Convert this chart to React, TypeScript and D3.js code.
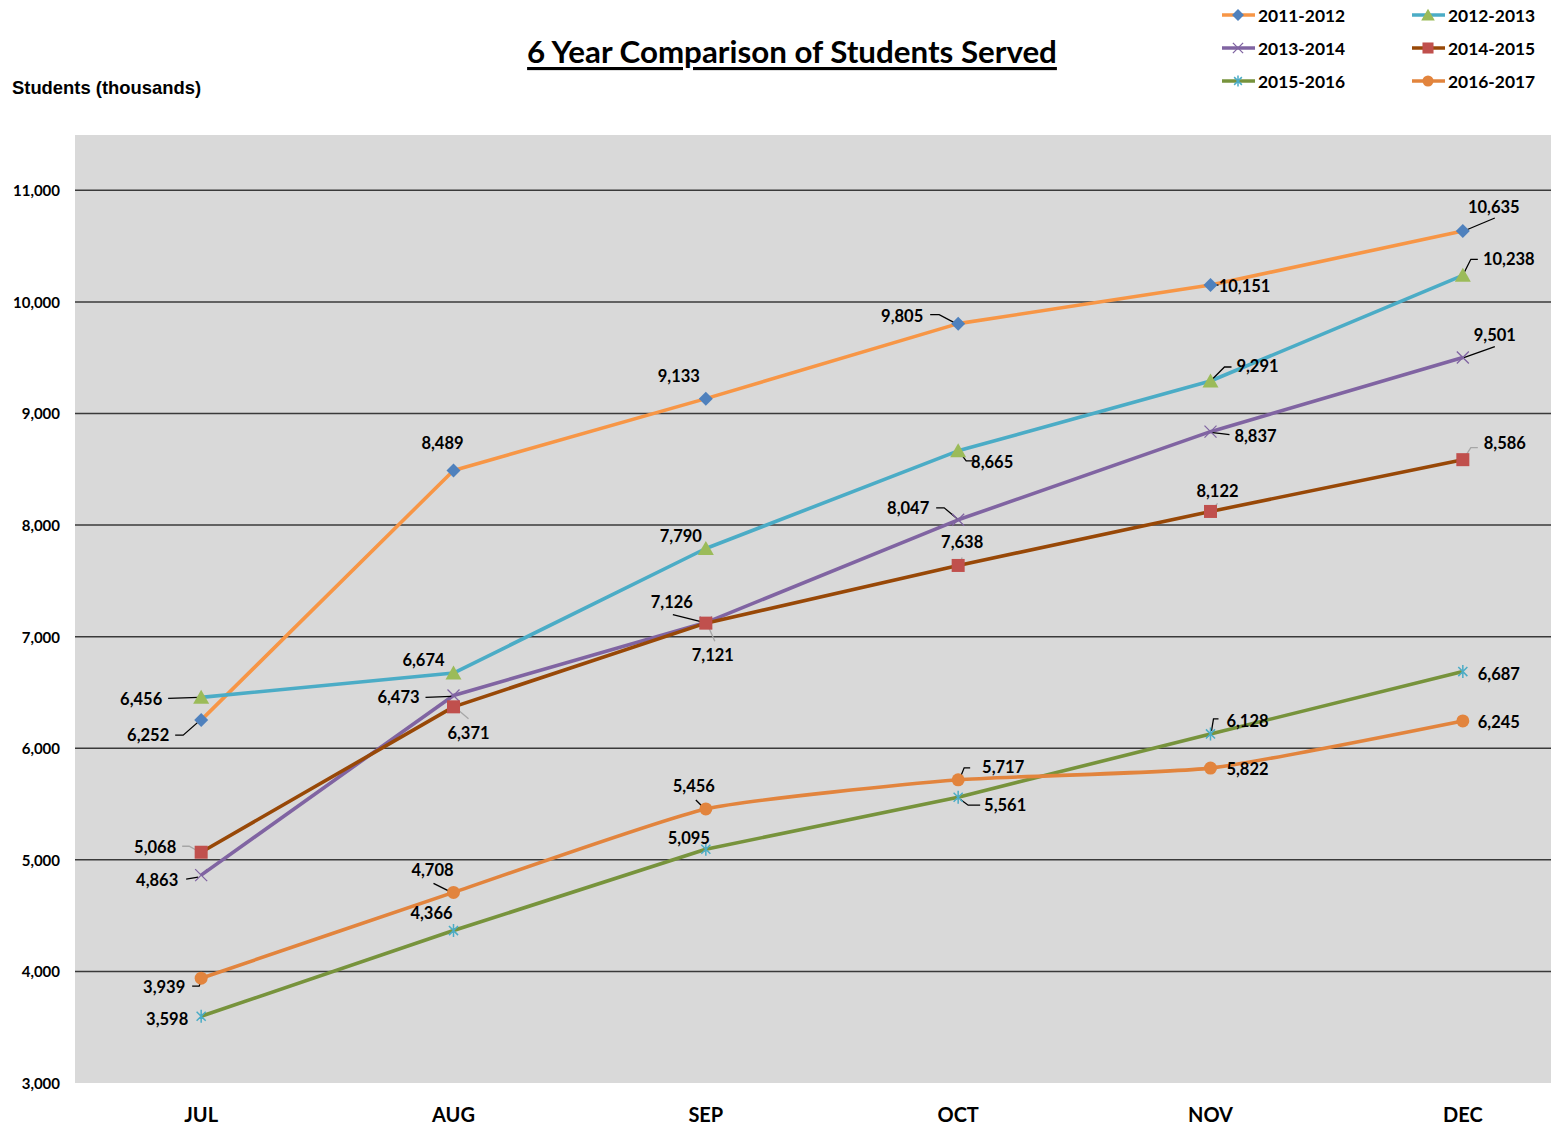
import React from "react";
import * as d3 from "d3";

// ---- data ----
const months = ["JUL", "AUG", "SEP", "OCT", "NOV", "DEC"];
const seriesNames = ["2011-2012", "2012-2013", "2013-2014", "2014-2015", "2015-2016", "2016-2017"];
const s2011 = [6252, 8489, 9133, 9805, 10151, 10635];
const s2012 = [6456, 6674, 7790, 8665, 9291, 10238];
const s2013 = [4863, 6473, 7126, 8047, 8837, 9501];
const s2014 = [5068, 6371, 7121, 7638, 8122, 8586];
const s2015 = [3598, 4366, 5095, 5561, 6128, 6687];
const s2016 = [3939, 4708, 5456, 5717, 5822, 6245];
const seriesValues = [s2011, s2012, s2013, s2014, s2015, s2016];
const yTicks = [3000, 4000, 5000, 6000, 7000, 8000, 9000, 10000, 11000];

// ---- styling ----
type Marker = "diamond" | "triangle" | "x" | "square" | "asterisk" | "circle";
const lineColors = ["#F79646", "#4BACC6", "#8064A2", "#984807", "#77933C", "#E2843D"];
const markerColors = ["#4F81BD", "#9BBB59", "#8064A2", "#C0504D", "#4BACC6", "#E2843D"];
const markerKinds: Marker[] = ["diamond", "triangle", "x", "square", "asterisk", "circle"];
const smoothSeries = [false, false, false, false, false, true];
const leaderColors = ["#000", "#000", "#000", "#A6A6A6", "#000", "#000"];

// label offsets [dx, dy] from each point, and optional leader polyline (relative)
type LabelPos = { d: [number, number]; leader?: [number, number][] };
const labelLayout: LabelPos[][] = [
  [
    { d: [-53, 15], leader: [[-26, 15], [-18, 15], [-2, 1]] },
    { d: [-11, -27] },
    { d: [-27, -23] },
    { d: [-56, -8], leader: [[-28, -9], [-19, -9], [-2, 0]] },
    { d: [34, 1], leader: [[2, 0], [8, 0]] },
    { d: [31, -24], leader: [[1, 0], [32, -13]] },
  ],
  [
    { d: [-60, 2], leader: [[-33, 1], [-2, 0]] },
    { d: [-30, -13] },
    { d: [-25, -12] },
    { d: [34, 11], leader: [[2, 2], [8, 10], [16, 10]] },
    { d: [47, -15], leader: [[2, -2], [14, -14], [21, -14]] },
    { d: [46, -16], leader: [[1, -2], [8, -16], [15, -16]] },
  ],
  [
    { d: [-44, 5], leader: [[-15, 4], [-3, 2]] },
    { d: [-55, 2], leader: [[-28, 2], [-2, 1]] },
    { d: [-34, -21], leader: [[-33, -8], [-1, 0]] },
    { d: [-50, -12], leader: [[-22, -12], [-14, -12], [-1, -1]] },
    { d: [45, 4], leader: [[2, 1], [11, 2], [19, 3]] },
    { d: [32, -23], leader: [[1, 0], [32, -11]] },
  ],
  [
    { d: [-46, -5], leader: [[-19, -6], [-12, -6], [-1, 0]] },
    { d: [15, 26], leader: [[2, 1], [15, 12]] },
    { d: [7, 32], leader: [[1, 0], [9, 18]] },
    { d: [4, -23], leader: [[1, -1], [4, -8]] },
    { d: [7, -20], leader: [[1, -1], [7, -8]] },
    { d: [42, -17], leader: [[1, -1], [8, -12], [15, -12]] },
  ],
  [
    { d: [-34, 3] },
    { d: [-22, -18] },
    { d: [-17, -11] },
    { d: [47, 8], leader: [[2, 2], [10, 8], [22, 8]] },
    { d: [37, -13], leader: [[1, -3], [3, -15], [8, -15]] },
    { d: [36, 2] },
  ],
  [
    { d: [-37, 9], leader: [[-9, 8], [-2, 8], [0, 2]] },
    { d: [-21, -22], leader: [[-20, -9], [-2, 0]] },
    { d: [-12, -23], leader: [[-10, -9], [-2, -1]] },
    { d: [45, -13], leader: [[2, -2], [6, -12], [12, -12]] },
    { d: [37, 1] },
    { d: [36, 1] },
  ],
];

const W = 1551;
const H = 1130;
const plot = { left: 75, top: 135, right: 1551, bottom: 1083 };
const FONT = "Lato, 'Open Sans', sans-serif";
const fmt = d3.format(",");

const x = d3.scalePoint<string>().domain(months).range([75, 1589]).padding(0.5);
const y = d3.scaleLinear().domain([3000, 11500]).range([plot.bottom, 134.5]);

function MarkerShape({ kind, color, cx, cy, s = 1 }: { kind: Marker; color: string; cx: number; cy: number; s?: number }) {
  switch (kind) {
    case "diamond":
      return <path d={`M${cx},${cy - 7 * s}L${cx + 7 * s},${cy}L${cx},${cy + 7 * s}L${cx - 7 * s},${cy}Z`} fill={color} />;
    case "triangle":
      return <path d={`M${cx},${cy - 7.5 * s}L${cx + 8 * s},${cy + 6.5 * s}L${cx - 8 * s},${cy + 6.5 * s}Z`} fill={color} />;
    case "square":
      return <rect x={cx - 6.5 * s} y={cy - 6.5 * s} width={13 * s} height={13 * s} fill={color} />;
    case "circle":
      return <circle cx={cx} cy={cy} r={6.5 * s} fill={color} />;
    case "x": {
      const r = 6 * s;
      return (
        <path d={`M${cx - r},${cy - r}L${cx + r},${cy + r}M${cx - r},${cy + r}L${cx + r},${cy - r}`} stroke={color} strokeWidth={1.3} fill="none" />
      );
    }
    case "asterisk": {
      const r = 6.5 * s;
      const a = r * 0.7;
      return (
        <path
          d={`M${cx},${cy - r}L${cx},${cy + r}M${cx - a},${cy - a}L${cx + a},${cy + a}M${cx - a},${cy + a}L${cx + a},${cy - a}`}
          stroke={color}
          strokeWidth={1.5}
          fill="none"
        />
      );
    }
  }
}

export default function App() {
  const legendCols = [1222, 1412];
  const legendRows = [15, 48, 81];

  return (
    <svg width={W} height={H} style={{ position: "absolute", left: 0, top: 0, background: "#fff" }} fontFamily={FONT}>
      {/* plot area */}
      <rect x={plot.left} y={plot.top} width={plot.right - plot.left} height={plot.bottom - plot.top} fill="#D9D9D9" />
      {yTicks
        .filter((t) => t > 3000)
        .map((t) => (
          <line key={t} x1={plot.left} x2={plot.right} y1={y(t)} y2={y(t)} stroke="#3a3a3a" strokeWidth={1.5} />
        ))}
      {yTicks.map((t) => (
        <text key={t} x={60} y={y(t)} textAnchor="end" dominantBaseline="central" fontSize={15} fontWeight={700} fill="#000">
          {fmt(t)}
        </text>
      ))}
      {months.map((m) => (
        <text key={m} x={x(m)} y={1114} textAnchor="middle" dominantBaseline="central" fontSize={20} fontWeight={700} fill="#000">
          {m}
        </text>
      ))}

      {/* titles */}
      <text x={792} y={51} textAnchor="middle" dominantBaseline="central" fontSize={31.3} fontWeight={700} fill="#000" textDecoration="underline">
        6 Year Comparison of Students Served
      </text>
      <text x={12} y={87} dominantBaseline="central" fontSize={18.4} fontWeight={700} fill="#000" fontFamily="'Liberation Sans', Arial, sans-serif">
        Students (thousands)
      </text>

      {/* series lines */}
      {seriesValues.map((vals, si) => {
        const gen = d3
          .line<number>()
          .x((_, i) => x(months[i]) as number)
          .y((v) => y(v))
          .curve(smoothSeries[si] ? d3.curveCardinal.tension(0.5) : d3.curveLinear);
        return <path key={si} d={gen(vals) || ""} fill="none" stroke={lineColors[si]} strokeWidth={3.6} strokeLinejoin="round" />;
      })}

      {/* leaders */}
      {seriesValues.map((vals, si) =>
        vals.map((v, i) => {
          const lp = labelLayout[si][i];
          if (!lp.leader) return null;
          const px = x(months[i]) as number;
          const py = y(v);
          const d = lp.leader.map((p, k) => `${k ? "L" : "M"}${px + p[0]},${py + p[1]}`).join("");
          return <path key={`l${si}-${i}`} d={d} fill="none" stroke={leaderColors[si]} strokeWidth={1.3} />;
        })
      )}

      {/* markers */}
      {seriesValues.map((vals, si) =>
        vals.map((v, i) => (
          <MarkerShape key={`m${si}-${i}`} kind={markerKinds[si]} color={markerColors[si]} cx={x(months[i]) as number} cy={y(v)} />
        ))
      )}

      {/* data labels */}
      {seriesValues.map((vals, si) =>
        vals.map((v, i) => {
          const lp = labelLayout[si][i];
          return (
            <text
              key={`t${si}-${i}`}
              x={(x(months[i]) as number) + lp.d[0]}
              y={y(v) + lp.d[1]}
              textAnchor="middle"
              dominantBaseline="central"
              fontSize={16.5}
              fontWeight={700}
              fill="#000"
            >
              {fmt(v)}
            </text>
          );
        })
      )}

      {/* legend */}
      {seriesNames.map((name, si) => {
        const lx = legendCols[si % 2];
        const ly = legendRows[Math.floor(si / 2)];
        return (
          <g key={name}>
            <line x1={lx} x2={lx + 33} y1={ly} y2={ly} stroke={lineColors[si]} strokeWidth={3.5} />
            <MarkerShape kind={markerKinds[si]} color={markerColors[si]} cx={lx + 16} cy={ly} s={0.85} />
            <text x={lx + 36} y={ly} dominantBaseline="central" fontSize={17.4} fontWeight={700} fill="#000">
              {name}
            </text>
          </g>
        );
      })}
    </svg>
  );
}
